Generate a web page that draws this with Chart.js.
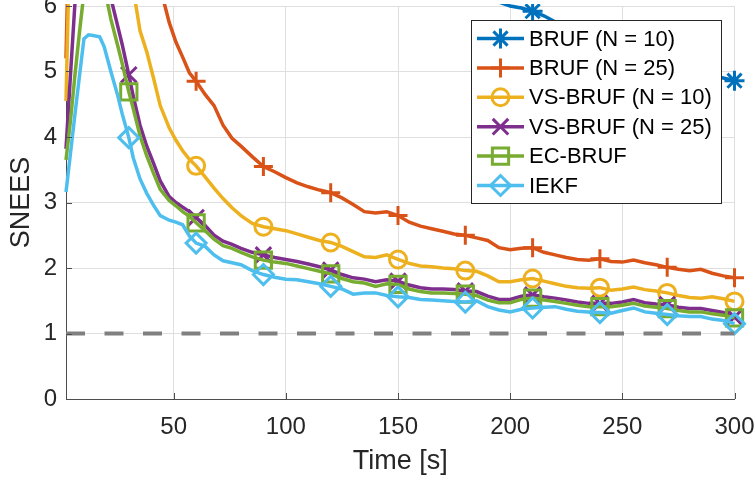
<!DOCTYPE html>
<html>
<head>
<meta charset="utf-8">
<title>SNEES</title>
<script src="https://cdn.jsdelivr.net/npm/chart.js@4.4.1/dist/chart.umd.min.js"></script>
<style>
  html, body { margin: 0; padding: 0; background: #fff; }
  #wrap { width: 755px; height: 482px; }
</style>
</head>
<body>
<div id="wrap"><canvas id="snees-chart" width="755" height="482"></canvas></div>
<script>
'use strict';

// ─────────────────────────────────────────────
// DATA
// ─────────────────────────────────────────────

const timeS = [
  2, 4, 6, 8, 10, 12, 14, 17, 19, 22, 25, 27,
  30, 32, 35, 38, 41, 44, 48, 51, 54, 57, 60, 64,
  68, 72, 76, 80, 85, 90, 95, 100, 105, 110, 115, 120,
  125, 130, 135, 140, 145, 150, 155, 160, 165, 170, 175, 180,
  185, 190, 195, 200, 205, 210, 215, 220, 225, 230, 235, 240,
  245, 250, 255, 260, 265, 270, 275, 280, 285, 290, 295, 300,
];

const bruf10 = [
  7.6, 12.5, 15.8, 17.6, 18.6, 19.1, 19.2, 18.9, 18.5, 17.9, 17.2, 16.7,
  16.0, 15.6, 15.0, 14.5, 14.0, 13.5, 12.9, 12.5, 12.1, 11.8, 11.5, 11.1,
  10.7, 10.4, 10.1, 9.8, 9.5, 9.2, 8.9, 8.65, 8.4, 8.2, 8.0, 7.8,
  7.62, 7.45, 7.3, 7.15, 7.02, 6.9, 6.78, 6.67, 6.56, 6.46, 6.37, 6.29,
  6.21, 6.13, 6.06, 6.0, 5.97, 5.92, 5.85, 5.76, 5.67, 5.59, 5.51, 5.44,
  5.37, 5.31, 5.25, 5.19, 5.14, 5.09, 5.04, 5.0, 4.96, 4.93, 4.9, 4.86,
];

const bruf25 = [
  5.2, 8.2, 10.2, 11.5, 12.2, 12.5, 12.5, 12.1, 11.7, 11.0, 10.2, 9.7,
  9.0, 8.55, 7.9, 7.3, 6.8, 6.28, 5.75, 5.45, 5.22, 4.98, 4.85, 4.65,
  4.48, 4.18, 3.98, 3.86, 3.7, 3.55, 3.47, 3.38, 3.3, 3.24, 3.19, 3.15,
  3.07, 2.97, 2.86, 2.84, 2.86, 2.8, 2.7, 2.64, 2.6, 2.56, 2.52, 2.5,
  2.46, 2.42, 2.31, 2.28, 2.3, 2.31, 2.24, 2.2, 2.16, 2.13, 2.12, 2.14,
  2.1, 2.09, 2.12, 2.08, 2.05, 2.01, 1.98, 1.96, 1.98, 1.92, 1.88, 1.85,
];

const vsBruf10 = [
  4.55, 7.5, 8.9, 9.7, 10.1, 10.2, 10.1, 9.7, 9.3, 8.7, 8.0, 7.5,
  6.75, 6.25, 5.62, 5.3, 4.9, 4.48, 4.14, 3.95, 3.79, 3.66, 3.56, 3.39,
  3.22, 3.06, 2.92, 2.8, 2.68, 2.63, 2.6, 2.57, 2.52, 2.47, 2.42, 2.39,
  2.33, 2.25, 2.17, 2.16, 2.2, 2.13, 2.07, 2.03, 2.02, 2.0, 1.99, 1.96,
  1.95, 1.88, 1.79, 1.79, 1.82, 1.84, 1.8, 1.76, 1.72, 1.7, 1.69, 1.7,
  1.66, 1.68, 1.71, 1.67, 1.65, 1.62, 1.58, 1.55, 1.54, 1.56, 1.53, 1.49,
];

const vsBruf25 = [
  3.82, 4.95, 6.05, 6.7, 7.05, 7.2, 7.2, 7.0, 6.75, 6.12, 5.7, 5.42,
  4.95, 4.62, 4.18, 3.86, 3.6, 3.33, 3.09, 3.0, 2.93, 2.86, 2.77, 2.65,
  2.5, 2.41, 2.36, 2.3, 2.24, 2.2, 2.16, 2.13, 2.1, 2.06, 2.02, 1.97,
  1.9, 1.85, 1.83, 1.79, 1.82, 1.8, 1.74, 1.7, 1.68, 1.68, 1.67, 1.65,
  1.64, 1.57, 1.52, 1.52, 1.57, 1.59, 1.56, 1.54, 1.51, 1.48, 1.46, 1.46,
  1.46, 1.48, 1.52, 1.47, 1.45, 1.44, 1.4, 1.38, 1.38, 1.35, 1.32, 1.25,
];

const ecBruf = [
  3.65, 4.25, 4.95, 5.6, 6.2, 6.6, 6.75, 6.6, 6.3, 5.8, 5.4, 5.13,
  4.69, 4.43, 4.02, 3.71, 3.45, 3.2, 3.03, 2.95, 2.86, 2.79, 2.69, 2.57,
  2.44, 2.34, 2.3, 2.24, 2.17, 2.12, 2.09, 2.07, 2.03, 1.99, 1.95, 1.91,
  1.84, 1.79, 1.77, 1.72, 1.76, 1.75, 1.68, 1.64, 1.62, 1.62, 1.61, 1.6,
  1.58, 1.51, 1.47, 1.47, 1.52, 1.54, 1.51, 1.49, 1.46, 1.43, 1.41, 1.41,
  1.41, 1.43, 1.46, 1.42, 1.4, 1.38, 1.35, 1.33, 1.33, 1.3, 1.28, 1.24,
];

const iekf = [
  3.16, 3.75, 4.35, 4.93, 5.5, 5.56, 5.55, 5.53, 5.38, 5.0, 4.64, 4.36,
  3.99, 3.68, 3.36, 3.14, 2.96, 2.8, 2.73, 2.7, 2.66, 2.49, 2.38, 2.33,
  2.2, 2.11, 2.08, 2.05, 1.96, 1.9, 1.86, 1.83, 1.82, 1.79, 1.76, 1.72,
  1.68, 1.6, 1.62, 1.62, 1.58, 1.56, 1.55, 1.52, 1.51, 1.5, 1.49, 1.48,
  1.5, 1.41, 1.36, 1.33, 1.37, 1.39, 1.4, 1.41, 1.37, 1.34, 1.33, 1.32,
  1.31, 1.35, 1.39, 1.33, 1.31, 1.29, 1.27, 1.26, 1.26, 1.22, 1.2, 1.15,
];

const seriesLabels = [
  'BRUF (N = 10)', 'BRUF (N = 25)', 'VS-BRUF (N = 10)',
  'VS-BRUF (N = 25)', 'EC-BRUF', 'IEKF',
];

const refLevel  = 1;            // dashed consistency line
const xTickVals = [50, 100, 150, 200, 250, 300];
const yTickVals = [0, 1, 2, 3, 4, 5, 6];
const markerEvery = 30;         // s between markers

// ─────────────────────────────────────────────
// STYLE
// ─────────────────────────────────────────────

const FONT   = '"Liberation Sans", Arial, Helvetica, sans-serif';
const TEXT   = '#262626';
const AXIS   = '#4d4d4d';
const GRID   = '#dfdfdf';

const seriesStyle = [
  { color: '#0072BD', marker: 'star',     size: 10   },
  { color: '#D95319', marker: 'cross',    size: 9.5  },
  { color: '#EDB120', marker: 'circle',   size: 8.5  },
  { color: '#7E2F8E', marker: 'crossRot', size: 11   },
  { color: '#77AC30', marker: 'rect',     size: 11.5 },
  { color: '#4DBEEE', marker: 'rectRot',  size: 10   },
];

// ─────────────────────────────────────────────
// PLUGINS
// ─────────────────────────────────────────────

// MATLAB-style tick marks pointing into the axes
const innerTicks = {
  id: 'innerTicks',
  afterDraw(chart, args, opts) {
    const { ctx, chartArea, scales } = chart;
    ctx.save();
    ctx.strokeStyle = opts.color;
    ctx.lineWidth = 1;
    ctx.beginPath();
    scales.x.ticks.forEach(t => {
      const px = Math.round(scales.x.getPixelForValue(t.value)) + 0.5;
      ctx.moveTo(px, chartArea.bottom);
      ctx.lineTo(px, chartArea.bottom - opts.length);
    });
    scales.y.ticks.forEach(t => {
      const py = Math.round(scales.y.getPixelForValue(t.value)) + 0.5;
      ctx.moveTo(chartArea.left, py);
      ctx.lineTo(chartArea.left + opts.length, py);
    });
    ctx.stroke();
    ctx.restore();
  }
};

// legend box sitting inside the plot, top right
const boxLegend = {
  id: 'boxLegend',
  afterDraw(chart, args, o) {
    const ctx = chart.ctx;
    ctx.save();
    ctx.fillStyle = '#fff';
    ctx.fillRect(o.left, o.top, o.width, o.height);
    ctx.strokeStyle = TEXT;
    ctx.lineWidth = 1;
    ctx.strokeRect(o.left + 0.5, o.top + 0.5, o.width, o.height);

    ctx.font = `${o.fontSize}px ${FONT}`;
    ctx.textBaseline = 'middle';
    ctx.textAlign = 'left';

    chart.data.datasets.filter(ds => ds.markerSize).forEach((ds, i) => {
      const y = o.top + o.firstRow + i * o.rowGap;
      ctx.strokeStyle = ds.borderColor;
      ctx.lineWidth = ds.borderWidth;
      ctx.beginPath();
      ctx.moveTo(o.lineFrom, y);
      ctx.lineTo(o.lineTo, y);
      ctx.stroke();

      ctx.fillStyle = 'rgba(0,0,0,0)';
      ctx.lineWidth = ds.pointBorderWidth;
      Chart.helpers.drawPoint(ctx, {
        pointStyle: ds.pointStyle, radius: ds.markerSize,
        borderWidth: ds.pointBorderWidth, rotation: 0,
      }, (o.lineFrom + o.lineTo) / 2, y);

      ctx.fillStyle = '#000';
      ctx.fillText(ds.label, o.textX, y + 1);
    });
    ctx.restore();
  }
};

// ─────────────────────────────────────────────
// DATASETS
// ─────────────────────────────────────────────

const seriesValues = [bruf10, bruf25, vsBruf10, vsBruf25, ecBruf, iekf];

const datasets = seriesValues.map((vals, i) => ({
  label: seriesLabels[i],
  data: timeS.map((t, k) => ({ x: t, y: vals[k] })),
  borderColor: seriesStyle[i].color,
  borderWidth: 3.5,
  pointStyle: seriesStyle[i].marker,
  markerSize: seriesStyle[i].size,
  pointRadius: c => (c.raw && c.raw.x % markerEvery === 0 ? c.dataset.markerSize : 0),
  pointBorderColor: seriesStyle[i].color,
  pointBackgroundColor: 'rgba(0,0,0,0)',
  pointBorderWidth: 3,
  tension: 0,
  order: seriesValues.length - i,
  clip: { left: 4, top: 2, right: 14, bottom: 14 },
}));

datasets.push({
  label: '',
  data: [{ x: 2, y: refLevel }, { x: 300, y: refLevel }],
  borderColor: '#808080',
  borderWidth: 4,
  borderDash: [19, 19.5],
  pointRadius: 0,
  order: 0,
});

// ─────────────────────────────────────────────
// CHART
// ─────────────────────────────────────────────

Chart.defaults.font.family = FONT;

new Chart(document.getElementById('snees-chart'), {
  type: 'line',
  data: { datasets },
  plugins: [innerTicks, boxLegend],
  options: {
    responsive: false,
    animation: false,
    devicePixelRatio: 1,
    events: [],
    layout: { autoPadding: false, padding: { top: 6, right: 20.5, bottom: 0, left: 0 } },
    plugins: {
      legend:  { display: false },
      tooltip: { enabled: false },
      innerTicks: { color: AXIS, length: 6 },
      boxLegend: {
        left: 471, top: 20, width: 250, height: 183,
        firstRow: 18.5, rowGap: 29.4,
        lineFrom: 477, lineTo: 524, textX: 529, fontSize: 22,
      },
    },
    scales: {
      x: {
        type: 'linear',
        min: 2,
        max: 300,
        afterBuildTicks: s => { s.ticks = xTickVals.map(v => ({ value: v })); },
        afterFit: s => {
          s.height = 83;
          s.paddingLeft = 0; s.paddingRight = 0;
        },
        grid: { color: GRID, lineWidth: 1, drawTicks: false },
        border: { color: AXIS, width: 1 },
        ticks: { color: TEXT, font: { size: 24 }, padding: 14, autoSkip: false, maxRotation: 0 },
        title: {
          display: true, text: 'Time [s]', color: TEXT,
          font: { size: 27 }, padding: { top: 0, bottom: 4 },
        },
      },
      y: {
        min: 0,
        max: 6,
        afterBuildTicks: s => { s.ticks = yTickVals.map(v => ({ value: v })); },
        afterFit: s => {
          s.width = 66;
          s.paddingTop = 0; s.paddingBottom = 0;
        },
        grid: { color: GRID, lineWidth: 1, drawTicks: false },
        border: { color: AXIS, width: 1 },
        ticks: { color: TEXT, font: { size: 24 }, padding: 9, autoSkip: false },
        title: {
          display: true, text: 'SNEES', color: TEXT,
          font: { size: 27 }, padding: { top: 5, bottom: 0 },
        },
      },
    },
  },
});
</script>
</body>
</html>
